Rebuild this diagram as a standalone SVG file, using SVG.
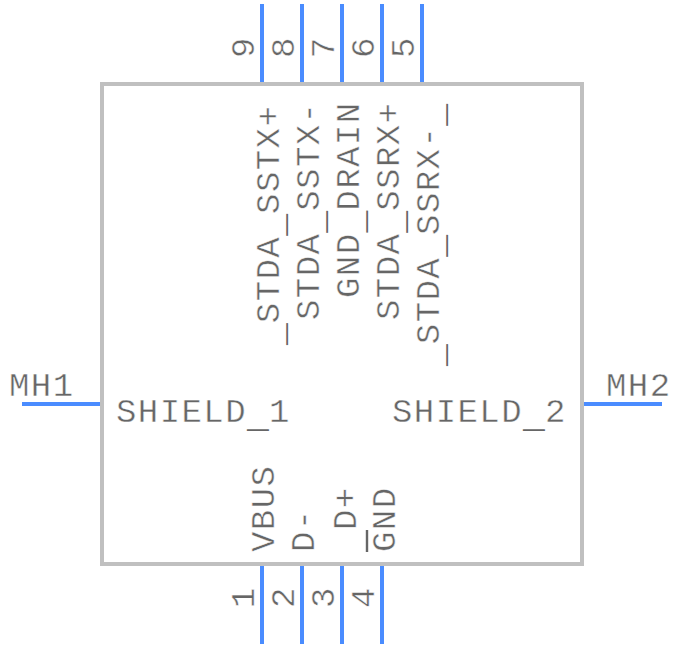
<svg xmlns="http://www.w3.org/2000/svg" width="684" height="648" viewBox="0 0 684 648">
<style>
text{font-family:"Liberation Mono","Courier New",monospace;font-size:34px;letter-spacing:1.44px;fill:#666;stroke:#fff;stroke-width:.45px}
.u{font-size:36.4px;letter-spacing:0;stroke:none}
.pin{stroke:#4a8cff;stroke-width:4;fill:none}
.bar{stroke:#666;stroke-width:2.4}
</style>
<rect width="684" height="648" fill="#fff"/>
<g id="connectors">
<path class="pin" d="M262 4V84M302 4V84M342 4V84M382 4V84M422 4V84M262 564V644M302 564V644M342 564V644M382 564V644M22 404H102M582 404H662"/>
</g>
<g id="body"><rect x="102" y="84" width="480" height="480" fill="none" stroke="#c0c0c0" stroke-width="4"/></g>
<g id="pin9"><text transform="translate(254,58) rotate(-90)">9</text><text transform="translate(279,345) rotate(-90)"><tspan class="u" dy="5">_</tspan><tspan dy="-5">STDA</tspan><tspan class="u" dy="5">_</tspan><tspan dy="-5">SSTX+</tspan></text></g>
<g id="pin8"><text transform="translate(294,58) rotate(-90)">8</text><text transform="translate(319,320) rotate(-90)">STDA<tspan class="u" dy="5">_</tspan><tspan dy="-5">SSTX-</tspan></text></g>
<g id="pin7"><text transform="translate(334,58) rotate(-90)">7</text><text transform="translate(359,298) rotate(-90)">GND<tspan class="u" dy="5">_</tspan><tspan dy="-5">DRAIN</tspan></text></g>
<g id="pin6"><text transform="translate(374,58) rotate(-90)">6</text><text transform="translate(399,320) rotate(-90)">STDA<tspan class="u" dy="5">_</tspan><tspan dy="-5">SSRX+</tspan></text></g>
<g id="pin5"><text transform="translate(414,58) rotate(-90)">5</text><text transform="translate(439,366) rotate(-90)"><tspan class="u" dy="5">_</tspan><tspan dy="-5">STDA</tspan><tspan class="u" dy="5">_</tspan><tspan dy="-5">SSRX-</tspan><tspan class="u" dy="5">_</tspan></text></g>
<g id="pin1"><text transform="translate(254,608) rotate(-90)">1</text><text transform="translate(274,552) rotate(-90)">VBUS</text></g>
<g id="pin2"><text transform="translate(294,608) rotate(-90)">2</text><text transform="translate(314,552) rotate(-90)">D-</text></g>
<g id="pin3"><text transform="translate(334,608) rotate(-90)">3</text><text transform="translate(356,530) rotate(-90)">D+</text></g>
<g id="pin4"><text transform="translate(374,608) rotate(-90)">4</text><text transform="translate(395,552) rotate(-90)">GND</text><line class="bar" x1="367" y1="530" x2="367" y2="552"/></g>
<g id="mh1"><text x="9" y="396">MH1</text><text x="116" y="422">SHIELD<tspan class="u" dy="5">_</tspan><tspan dy="-5">1</tspan></text></g>
<g id="mh2"><text x="606" y="396">MH2</text><text x="392" y="422">SHIELD<tspan class="u" dy="5">_</tspan><tspan dy="-5">2</tspan></text></g>
</svg>
